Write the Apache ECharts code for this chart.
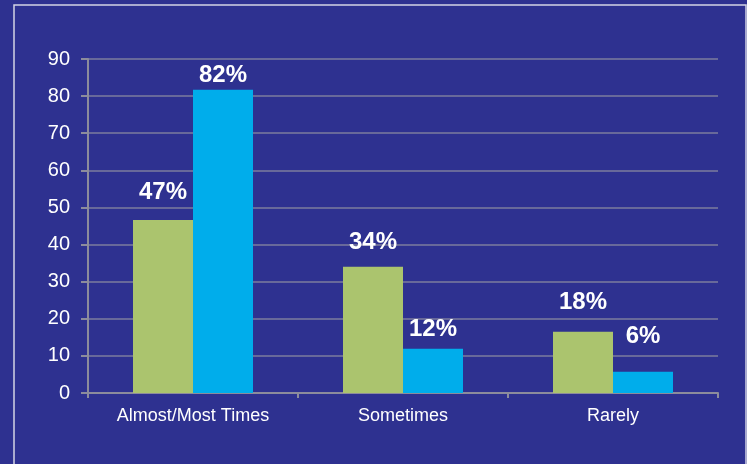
<!DOCTYPE html>
<html>
<head>
<meta charset="utf-8">
<style>
html,body{margin:0;padding:0;background:#2e3190;}
#chart{width:747px;height:464px;}
</style>
<script src="https://cdn.jsdelivr.net/npm/echarts@6/dist/echarts.min.js"></script>
</head>
<body>
<div id="chart"></div>
<script>
const categories = ['Almost/Most Times', 'Sometimes', 'Rarely'];
const greenValues = [46.6, 34, 16.5];
const blueValues = [81.7, 11.9, 5.7];
const greenLabels = ['47%', '34%', '18%'];
const blueLabels = ['82%', '12%', '6%'];
const yTicks = [0, 10, 20, 30, 40, 50, 60, 70, 80, 90];

const greenDist = [16, 12, 17];
const blueDist = [2, 7, 23];

function buildData(vals, labels, dists) {
  return vals.map((v, i) => ({
    value: v,
    label: { formatter: labels[i], distance: dists[i] }
  }));
}

const chart = echarts.init(document.getElementById('chart'), null, { renderer: 'canvas' });
const labelStyle = {
  show: true,
  position: 'top',
  color: '#ffffff',
  fontFamily: 'Liberation Sans, Arial, sans-serif',
  fontWeight: 'bold',
  fontSize: 24
};
chart.setOption({
  backgroundColor: '#2e3190',
  animation: false,
  graphic: [{
    type: 'rect',
    shape: { x: 14, y: 5, width: 732, height: 470 },
    style: { fill: 'none', stroke: '#d4d4e4', lineWidth: 1.5 },
    silent: true
  }],
  grid: { left: 88, right: 29, top: 59, bottom: 71 },
  xAxis: {
    type: 'category',
    data: categories,
    axisLine: { lineStyle: { color: '#8c8c9c', width: 2 } },
    axisTick: { show: true, length: 5, lineStyle: { color: '#8c8c9c', width: 2 } },
    axisLabel: {
      color: '#ffffff',
      fontFamily: 'Liberation Sans, Arial, sans-serif',
      fontSize: 18,
      margin: 14
    }
  },
  yAxis: {
    type: 'value',
    min: yTicks[0],
    max: yTicks[yTicks.length - 1],
    interval: 10,
    axisLine: { show: true, lineStyle: { color: '#8c8c9c', width: 2 } },
    axisTick: { show: true, length: 7, lineStyle: { color: '#8c8c9c', width: 2 } },
    splitLine: { show: true, lineStyle: { color: '#7d7d9e', width: 1.5 } },
    axisLabel: {
      color: '#ffffff',
      fontFamily: 'Liberation Sans, Arial, sans-serif',
      fontSize: 20,
      margin: 18
    }
  },
  series: [
    {
      type: 'bar',
      data: buildData(greenValues, greenLabels, greenDist),
      barWidth: 60,
      barGap: '0%',
      itemStyle: { color: '#abc46e' },
      label: labelStyle
    },
    {
      type: 'bar',
      data: buildData(blueValues, blueLabels, blueDist),
      barWidth: 60,
      barGap: '0%',
      itemStyle: { color: '#00adeb' },
      label: labelStyle
    }
  ]
});
</script>
</body>
</html>
